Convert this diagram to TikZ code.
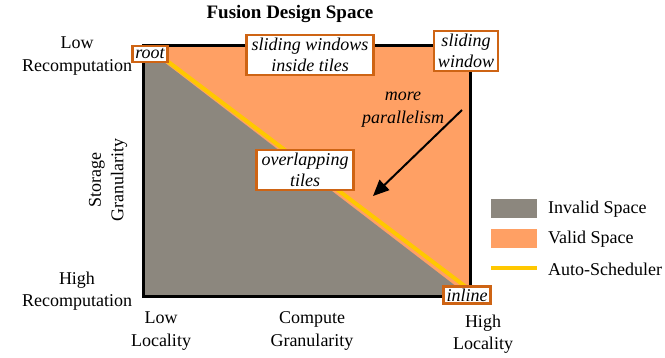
\documentclass[tikz,border=0pt]{standalone}
\usepackage{fontspec}
\setmainfont{Liberation Serif}
\usetikzlibrary{arrows.meta}
\definecolor{invalidgray}{RGB}{140,135,126}
\definecolor{validorange}{RGB}{255,160,100}
\definecolor{boxedge}{RGB}{206,100,20}
\definecolor{autoyellow}{RGB}{255,200,0}
\tikzset{
  lbl/.style={font=\fontsize{18}{22.5}\selectfont, align=center, inner sep=0pt},
  tag/.style={draw=boxedge, line width=2.6pt, fill=white, align=center,
    font=\fontsize{18}{21.5}\selectfont\itshape, inner xsep=5pt, inner ysep=3pt},
}
\begin{document}
\begin{tikzpicture}[x=1pt,y=-1pt]
\useasboundingbox (0,0) rectangle (665,358);
% design space regions
\fill[validorange] (143,46) rectangle (470,297);
\fill[invalidgray] (143,46) -- (143,297) -- (470,297) -- cycle;
\draw[autoyellow, line width=4pt] (150,48) -- (470,290);
\draw[line width=3pt] (143,46) rectangle (470,297);
% title and axis labels
\node[lbl, font=\fontsize{19}{22}\selectfont\bfseries] (title) at (290,14) {Fusion Design Space};
\node[lbl] (lowrec) at (77,56) {Low\\Recomputation};
\node[lbl] (highrec) at (77,291) {High\\Recomputation};
\node[lbl, rotate=90] (storage) at (108,180) {Storage\\Granularity};
\node[lbl] (lowloc) at (161,331) {Low\\Locality};
\node[lbl] (compute) at (312,331) {Compute\\Granularity};
\node[lbl] (highloc) at (483,334) {High\\Locality};
% schedule tags
\node[tag, inner xsep=3pt] (root) at (150,54) {root};
\node[tag] (swit) at (310,55) {sliding windows\\inside tiles};
\node[tag, inner xsep=4pt] (sw) at (466,51) {sliding\\window};
\node[tag] (ovl) at (305,170) {overlapping\\tiles};
\node[tag, inner xsep=3pt, inner ysep=2pt] (inl) at (467,295) {inline};
% parallelism annotation
\node[lbl, font=\fontsize{18}{23}\selectfont\itshape] (par) at (403,110) {more\\parallelism};
\coordinate (pstart) at (462,110);
\coordinate (pend) at (373,196);
\draw[line width=2pt, -{Triangle[length=16pt,width=14pt]}] (pstart) -- (pend);
% legend
\fill[invalidgray] (491,199) rectangle (537,218);
\fill[validorange] (491,229) rectangle (537,248);
\draw[autoyellow, line width=4pt] (491,268) -- (537,268);
\node[lbl, anchor=west] (linv) at (548,209) {Invalid Space};
\node[lbl, anchor=west] (lval) at (548,239) {Valid Space};
\node[lbl, anchor=west] (lauto) at (548,269) {Auto-Scheduler};
\end{tikzpicture}
\end{document}
